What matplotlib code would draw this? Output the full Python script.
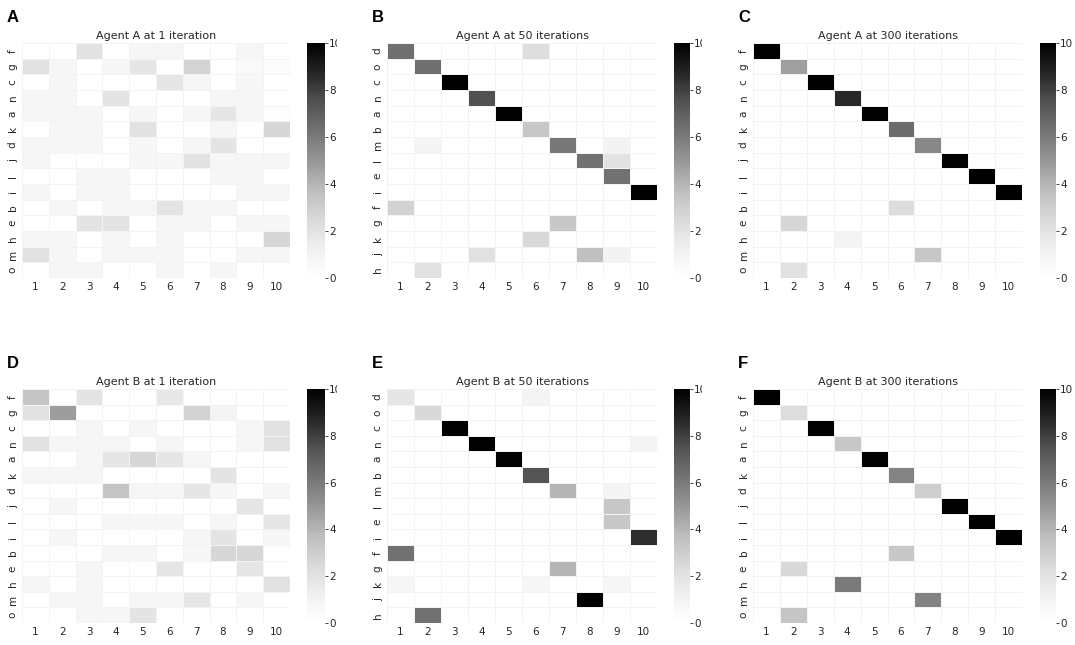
import numpy as np
import matplotlib
matplotlib.use('Agg')
import matplotlib.pyplot as plt
from matplotlib.transforms import Bbox, TransformedBbox

# x labels and the two row orders used by the panels
cols = [str(i) for i in range(1, 11)]
rows_acdf = ['f', 'g', 'c', 'n', 'a', 'k', 'd', 'j', 'l', 'i', 'b', 'e', 'h', 'm', 'o']
rows_be = ['d', 'o', 'c', 'n', 'a', 'b', 'm', 'l', 'e', 'i', 'f', 'g', 'k', 'j', 'h']

agent_a_1 = [
    [0, 0, 2, 0, 0.8, 0.8, 0, 0, 0.8, 0],
    [2, 0.8, 0, 0.7, 1.8, 0, 2.7, 0, 0.5, 0.3],
    [0, 0.8, 0, 0, 0, 1.8, 0.8, 0, 0.7, 0],
    [0.8, 0.8, 0, 1.9, 0, 0, 0, 0.8, 0.8, 0],
    [0.8, 0.8, 0.8, 0, 0.8, 0, 0.8, 1.8, 0.8, 0.2],
    [0, 0.8, 0.8, 0, 2, 0, 0, 0.8, 0, 2.6],
    [0.8, 0.8, 0.8, 0, 0.7, 0, 0.8, 1.9, 0, 0],
    [0.8, 0, 0, 0, 0.7, 0.7, 2, 0.8, 0.8, 0.8],
    [0, 0, 0.8, 0.8, 0, 0, 0, 0.8, 0.8, 0],
    [0.8, 0, 0.8, 0.8, 0, 0, 0, 0, 0.8, 0.8],
    [0, 0.8, 0, 0.8, 0.8, 1.9, 0.8, 0.8, 0, 0],
    [0, 0, 1.9, 1.9, 0, 0.8, 0.8, 0, 0.8, 0.7],
    [0.8, 0.8, 0, 0.8, 0, 0.8, 0, 0, 0, 2.6],
    [2, 0.8, 0, 0.8, 0.8, 0.8, 0, 0, 0.8, 0.8],
    [0, 0.8, 0.8, 0, 0, 0.8, 0, 0.8, 0, 0],
]

agent_a_50 = [
    [6.4, 0, 0, 0, 0, 2.3, 0, 0, 0, 0],
    [0, 6.4, 0, 0, 0, 0, 0, 0, 0, 0],
    [0, 0, 10, 0, 0, 0, 0, 0, 0, 0],
    [0, 0, 0, 7.5, 0, 0, 0, 0, 0, 0],
    [0, 0, 0, 0, 10, 0, 0, 0, 0, 0],
    [0, 0, 0, 0, 0, 3.3, 0, 0, 0, 0],
    [0, 0.9, 0, 0, 0, 0, 6.1, 0, 1, 0],
    [0, 0, 0, 0, 0, 0, 0, 6.3, 2, 0],
    [0, 0, 0, 0, 0, 0, 0, 0, 6.3, 0],
    [0, 0, 0, 0, 0, 0, 0, 0, 0, 10],
    [2.8, 0, 0, 0, 0, 0, 0, 0, 0, 0],
    [0, 0, 0, 0, 0, 0, 3.3, 0, 0, 0],
    [0, 0, 0, 0, 0, 2.5, 0, 0, 0, 0],
    [0, 0, 0, 2.1, 0, 0, 0, 3.6, 1, 0],
    [0, 2.1, 0, 0, 0, 0, 0, 0, 0, 0],
]

agent_a_300 = [
    [10, 0, 0, 0, 0, 0, 0, 0, 0, 0],
    [0, 4.7, 0, 0, 0, 0, 0, 0, 0, 0],
    [0, 0, 10, 0, 0, 0, 0, 0, 0, 0],
    [0, 0, 0, 8.7, 0, 0, 0, 0, 0, 0],
    [0, 0, 0, 0, 10, 0, 0, 0, 0, 0],
    [0, 0, 0, 0, 0, 6.5, 0, 0, 0, 0],
    [0, 0, 0, 0, 0, 0, 5.5, 0, 0, 0],
    [0, 0, 0, 0, 0, 0, 0, 10, 0, 0],
    [0, 0, 0, 0, 0, 0, 0, 0, 10, 0],
    [0, 0, 0, 0, 0, 0, 0, 0, 0, 10],
    [0, 0, 0, 0, 0, 2.3, 0, 0, 0, 0],
    [0, 2.6, 0, 0, 0, 0, 0, 0, 0, 0],
    [0, 0, 0, 0.9, 0, 0, 0, 0, 0, 0],
    [0, 0, 0, 0, 0, 0, 3.3, 0, 0, 0],
    [0, 2.1, 0, 0, 0, 0, 0, 0, 0, 0],
]

agent_b_1 = [
    [3.4, 0, 1.9, 0, 0, 1.7, 0, 0, 0, 0],
    [2, 4.8, 0, 0, 0, 0, 2.8, 0.9, 0, 0],
    [0, 0, 0.8, 0, 0.8, 0, 0, 0, 0.8, 2],
    [2.1, 0.8, 0.8, 0.8, 0, 0.8, 0, 0, 0.8, 2],
    [0, 0, 0.8, 1.8, 2.6, 1.8, 0.8, 0, 0, 0],
    [0.8, 0.8, 0.8, 0, 0, 0, 0, 1.9, 0, 0],
    [0, 0, 0, 3.4, 0.8, 0.8, 1.8, 0.8, 0, 0.8],
    [0, 0.8, 0, 0, 0, 0, 0, 0, 1.8, 0],
    [0, 0, 0, 0.8, 0.8, 0.8, 0, 0.8, 0, 1.8],
    [0, 0.8, 0, 0, 0, 0, 0.8, 1.9, 0, 0.7],
    [0, 0, 0, 0.8, 0.8, 0, 0.7, 2.6, 2.6, 0],
    [0, 0, 0.8, 0, 0, 1.8, 0, 0, 1.8, 0],
    [0.8, 0, 0.8, 0, 0, 0, 0, 0, 0, 2],
    [0, 0.8, 0.8, 0, 0.8, 0.8, 1.8, 0, 0.8, 0],
    [0, 0, 0.8, 0.8, 1.9, 0, 0, 0, 0, 0],
]

agent_b_50 = [
    [1.8, 0, 0, 0, 0, 0.9, 0, 0, 0, 0],
    [0, 2.5, 0, 0, 0, 0, 0, 0, 0, 0],
    [0, 0, 10, 0, 0, 0, 0, 0, 0, 0],
    [0, 0, 0, 10, 0, 0, 0, 0, 0, 0.9],
    [0, 0, 0, 0, 10, 0, 0, 0, 0, 0],
    [0, 0, 0, 0, 0, 7.4, 0, 0, 0, 0],
    [0, 0, 0, 0, 0, 0, 4, 0, 0.9, 0],
    [0, 0, 0, 0, 0, 0, 0, 0, 3.3, 0],
    [0, 0, 0, 0, 0, 0, 0, 0, 3.3, 0],
    [0, 0, 0, 0, 0, 0, 0, 0, 0, 8.5],
    [6.3, 0, 0, 0, 0, 0, 0, 0, 0, 0],
    [0, 0, 0, 0, 0, 0, 4, 0, 0, 0],
    [0.8, 0, 0, 0, 0, 0.8, 0, 0, 0.8, 0],
    [0, 0, 0, 0, 0, 0, 0, 10, 0, 0],
    [0, 6.3, 0, 0, 0, 0, 0, 0, 0, 0],
]

agent_b_300 = [
    [10, 0, 0, 0, 0, 0, 0, 0, 0, 0],
    [0, 2.3, 0, 0, 0, 0, 0, 0, 0, 0],
    [0, 0, 10, 0, 0, 0, 0, 0, 0, 0],
    [0, 0, 0, 3.3, 0, 0, 0, 0, 0, 0],
    [0, 0, 0, 0, 10, 0, 0, 0, 0, 0],
    [0, 0, 0, 0, 0, 5.7, 0, 0, 0, 0],
    [0, 0, 0, 0, 0, 0, 3, 0, 0, 0],
    [0, 0, 0, 0, 0, 0, 0, 10, 0, 0],
    [0, 0, 0, 0, 0, 0, 0, 0, 10, 0],
    [0, 0, 0, 0, 0, 0, 0, 0, 0, 10],
    [0, 0, 0, 0, 0, 3.3, 0, 0, 0, 0],
    [0, 2.5, 0, 0, 0, 0, 0, 0, 0, 0],
    [0, 0, 0, 6, 0, 0, 0, 0, 0, 0],
    [0, 0, 0, 0, 0, 0, 5.7, 0, 0, 0],
    [0, 3.4, 0, 0, 0, 0, 0, 0, 0, 0],
]

W, H = 1075, 645
fig = plt.figure(figsize=(W / 100, H / 100), dpi=100)
txt = '#262626'


def px_axes(left, top, right, bottom):
    return fig.add_axes([left / W, 1 - bottom / H, (right - left) / W, (bottom - top) / H])


# letter, title, rows, data, heatmap box (px), colorbar x range (px), clip "10" label?
panels = [
    ('A', 'Agent A at 1 iteration', rows_acdf, agent_a_1, (22, 43, 290, 278), (307, 325), True),
    ('B', 'Agent A at 50 iterations', rows_be, agent_a_50, (387, 43, 657, 278), (674, 690), True),
    ('C', 'Agent A at 300 iterations', rows_acdf, agent_a_300, (753, 43, 1022, 278), (1040, 1056), False),
    ('D', 'Agent B at 1 iteration', rows_acdf, agent_b_1, (22, 389, 290, 623), (307, 325), True),
    ('E', 'Agent B at 50 iterations', rows_be, agent_b_50, (387, 389, 657, 623), (674, 690), True),
    ('F', 'Agent B at 300 iterations', rows_acdf, agent_b_300, (753, 389, 1022, 623), (1040, 1056), False),
]

for letter, title, rows, data, box, cbx, cut in panels:
    ax = px_axes(*box)
    vals = np.array(data, dtype=float)
    mesh = ax.pcolormesh(vals, cmap='Greys', vmin=0, vmax=10,
                         edgecolors='#f3f3f3', linewidth=0.5)
    ax.set_xlim(0, vals.shape[1])
    ax.set_ylim(vals.shape[0], 0)
    ax.set_xticks(np.arange(vals.shape[1]) + 0.5)
    ax.set_xticklabels(cols)
    ax.set_yticks(np.arange(vals.shape[0]) + 0.5)
    ax.set_yticklabels(rows, rotation=90, va='center')
    ax.tick_params(length=0, labelsize=7.5, labelcolor=txt, pad=3)
    for s in ax.spines.values():
        s.set_visible(False)
    ax.set_title(title, fontsize=8, color=txt, pad=3)

    cax = px_axes(cbx[0], box[1], cbx[1], box[3])
    cb = fig.colorbar(mesh, cax=cax)
    cb.outline.set_visible(False)
    cb.set_ticks([0, 2, 4, 6, 8, 10])
    cax.tick_params(length=2.5, width=0.6, color=txt, labelsize=7.5,
                    labelcolor=txt, pad=0.5)
    if cut:
        # the "10" label is cut off in the original panels
        clip_x = (cbx[1] + 12) / W
        clip = TransformedBbox(Bbox.from_extents(0, 0, clip_x, 1), fig.transFigure)
        lab = cax.get_yticklabels()[-1]
        lab.set_clip_box(clip)
        lab.set_clip_on(True)

    fig.text((box[0] - 15) / W, 1 - (box[1] - 33) / H, letter,
             fontsize=12, fontweight='bold', family='Liberation Sans',
             va='top', ha='left')

fig.savefig('out.png', dpi=100)
